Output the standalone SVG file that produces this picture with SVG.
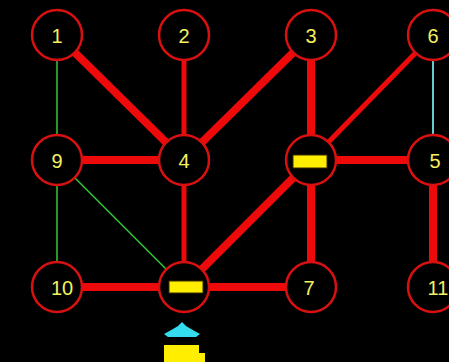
<svg xmlns="http://www.w3.org/2000/svg" width="449" height="362" viewBox="0 0 449 362">
<style>
.bg{fill:#000}
.n circle{fill:#000;stroke:#d81010;stroke-width:2.5}
.n text{fill:#f4f060;font-family:"Liberation Sans",Arial,sans-serif;font-size:20px;text-anchor:middle;dominant-baseline:central}
.e{stroke:#ee0a0a;stroke-linecap:butt;fill:none}
.t{stroke-width:8}
.m{stroke-width:5}
.g{stroke:#33cc33;stroke-width:1.5}
.c{stroke:#66cccc;stroke-width:2}
.bar{fill:#ffee00;stroke:#3a2a00;stroke-width:1}
</style>
<rect class="bg" x="0" y="0" width="449" height="362"/>
<g id="connectors">
<line class="e g" x1="57" y1="35" x2="57" y2="160"/>
<line class="e g" x1="57" y1="160" x2="57" y2="287"/>
<line class="e g" x1="57" y1="160" x2="184" y2="287"/>
<line class="e c" x1="433" y1="35" x2="433" y2="160"/>
<line class="e t" x1="57" y1="35" x2="184" y2="160"/>
<line class="e m" x1="184" y1="35" x2="184" y2="160"/>
<line class="e t" x1="311" y1="35" x2="184" y2="160"/>
<line class="e t" x1="311" y1="35" x2="311" y2="160"/>
<line class="e m" x1="433" y1="35" x2="311" y2="160"/>
<line class="e t" x1="57" y1="160" x2="184" y2="160"/>
<line class="e t" x1="311" y1="160" x2="433" y2="160"/>
<line class="e m" x1="184" y1="160" x2="184" y2="287"/>
<line class="e t" x1="311" y1="160" x2="184" y2="287"/>
<line class="e t" x1="311" y1="160" x2="311" y2="287"/>
<line class="e t" x1="433" y1="160" x2="433" y2="287"/>
<line class="e t" x1="57" y1="287" x2="184" y2="287"/>
<line class="e t" x1="184" y1="287" x2="311" y2="287"/>
</g>
<g id="n1" class="n"><circle cx="57" cy="35" r="25"/><text x="57" y="36">1</text></g>
<g id="n2" class="n"><circle cx="184" cy="35" r="25"/><text x="184" y="36">2</text></g>
<g id="n3" class="n"><circle cx="311" cy="35" r="25"/><text x="311" y="36">3</text></g>
<g id="n6" class="n"><circle cx="433" cy="35" r="25"/><text x="433" y="36">6</text></g>
<g id="n9" class="n"><circle cx="57" cy="160" r="25"/><text x="57" y="161">9</text></g>
<g id="n4" class="n"><circle cx="184" cy="160" r="25"/><text x="184" y="161">4</text></g>
<g id="nA" class="n"><circle cx="311" cy="160" r="25"/><rect class="bar" x="293" y="155" width="34" height="13"/></g>
<g id="n5" class="n"><circle cx="433" cy="160" r="25"/><text x="435" y="161">5</text></g>
<g id="n10" class="n"><circle cx="57" cy="287" r="25"/><text x="62" y="288">10</text></g>
<g id="nB" class="n"><circle cx="184" cy="287" r="25"/><rect class="bar" x="169" y="281" width="34" height="12"/></g>
<g id="n7" class="n"><circle cx="311" cy="287" r="25"/><text x="309" y="288">7</text></g>
<g id="n11" class="n"><circle cx="433" cy="287" r="25"/><text x="438" y="288">11</text></g>
<g id="marker">
<path d="M164,334 L173,329 L178,326 L182,322 L186,326 L191,329 L200,334 L196,337 L168,337 Z" fill="#33ddee"/>
<path d="M164,345 L199,345 L199,353 L205,353 L205,362 L164,362 Z" fill="#ffee00"/>
</g>
</svg>
